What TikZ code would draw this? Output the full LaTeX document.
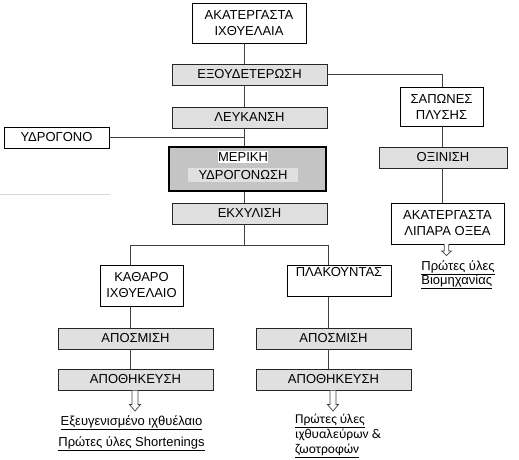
\documentclass[tikz,border=0pt]{standalone}
\usepackage{fontspec}
\setmainfont{Liberation Sans}
\newfontfamily\calfont{Carlito}
\usetikzlibrary{calc}
\definecolor{boxgray}{HTML}{E0E0E0}
\definecolor{midgray}{HTML}{C4C4C4}
\definecolor{linegray}{HTML}{404040}
\begin{document}
\begin{tikzpicture}[x=1pt,y=-1pt,
  font=\fontsize{13}{16}\selectfont,
  wbox/.style={draw=black, line width=0.9pt, fill=white, inner sep=0pt, align=center},
  gbox/.style={draw=black!85, line width=0.9pt, fill=boxgray, inner sep=0pt, minimum width=155pt, minimum height=21pt},
  conn/.style={draw=linegray, line width=0.9pt},
  hollow/.style={draw=linegray, line width=0.7pt, fill=white},
  prod/.style={inner sep=0pt, anchor=center}]
\useasboundingbox (0,0) rectangle (519,459);

% faint artefact line
\draw[black!15, line width=0.8pt] (0,194) -- (110,194);

% main column
\node[wbox, minimum width=114pt, minimum height=40pt] (raw) at (249,23) {ΑΚΑΤΕΡΓΑΣΤΑ\\ΙΧΘΥΕΛΑΙΑ};
\node[gbox] (neut) at (249.5,74.5) {ΕΞΟΥΔΕΤΕΡΩΣΗ};
\node[gbox] (bleach) at (249.5,117.5) {ΛΕΥΚΑΝΣΗ};
\node[wbox, minimum width=105pt, minimum height=21pt] (hyd) at (56.5,137.5) {ΥΔΡΟΓΟΝΟ};
\node[draw=black, line width=1.1pt, fill=midgray, minimum width=157pt, minimum height=44pt, inner sep=0pt] (part) at (247.5,169) {};
\node[fill=white, inner sep=0pt, minimum width=50pt, minimum height=12pt] (partA) at (243,157) {ΜΕΡΙΚΗ};
\node[fill=boxgray, inner sep=0pt, minimum width=110pt, minimum height=14pt] (partB) at (243,175) {ΥΔΡΟΓΟΝΩΣΗ};
\node[gbox] (extr) at (249.5,213.5) {ΕΚΧΥΛΙΣΗ};

% right column
\node[wbox, minimum width=83pt, minimum height=39pt] (soap) at (441.5,106.5) {ΣΑΠΩΝΕΣ\\ΠΛΥΣΗΣ};
\node[gbox, minimum width=128pt] (acid) at (443,157.5) {ΟΞΙΝΙΣΗ};
\node[wbox, minimum width=113pt, minimum height=41pt] (fatty) at (447.5,223.5) {ΑΚΑΤΕΡΓΑΣΤΑ\\ΛΙΠΑΡΑ ΟΞΕΑ};
\node[prod, align=left] (indus) at (458,275) {\underline{Πρώτες ύλες}\\[-2pt]\underline{Βιομηχανίας}};

% left branch
\node[wbox, minimum width=83pt, minimum height=41pt] (clean) at (141.5,285.5) {ΚΑΘΑΡΟ\\ΙΧΘΥΕΛΑΙΟ};
\node[gbox] (deo1) at (135.5,338.5) {ΑΠΟΣΜΙΣΗ};
\node[gbox] (store1) at (135.5,379.5) {ΑΠΟΘΗΚΕΥΣΗ};
\node[prod] (ref) at (131.5,422.5) {\underline{Εξευγενισμένο ιχθυέλαιο}};
\node[prod] (short) at (131.5,443.5) {\underline{Πρώτες ύλες Shortenings}};

% right branch
\node[wbox, minimum width=104pt, minimum height=31pt] (cake) at (339,281) {ΠΛΑΚΟΥΝΤΑΣ\\[-3pt]\strut};
\node[gbox] (deo2) at (333.5,338.5) {ΑΠΟΣΜΙΣΗ};
\node[gbox] (store2) at (333.5,379.5) {ΑΠΟΘΗΚΕΥΣΗ};
\node[prod, anchor=north west, align=left, font=\calfont\fontsize{13.5}{15}\selectfont] (meal) at (295,413.5) {\underline{Πρώτες ύλες}\\ιχθυαλεύρων \&\\\underline{ζωοτροφών}};

% connectors: main column (line at x=244)
\coordinate (c1) at (244,0);
\draw[conn] (raw.south -| c1) -- (neut.north -| c1);
\draw[conn] (neut.south -| c1) -- (bleach.north -| c1);
\draw[conn] (bleach.south -| c1) -- (part.north -| c1);
\draw[conn] (hyd.east) -- (hyd.east -| c1);
\draw[conn] (part.south -| c1) -- (extr.north -| c1);
\coordinate (br) at (244,245);
\coordinate (bl) at (130,245);
\coordinate (brr) at (328,245);
\draw[conn] (extr.south -| c1) -- (br);
\draw[conn] (bl) -- (brr);
\draw[conn] (bl) -- (bl |- clean.north);
\draw[conn] (brr) -- (brr |- cake.north);
\draw[conn] (clean.south -| bl) -- (deo1.north -| bl);
\draw[conn] (deo1.south -| bl) -- (store1.north -| bl);
\draw[conn] (cake.south -| brr) -- (deo2.north -| brr);
\draw[conn] (deo2.south -| brr) -- (store2.north -| brr);

% connectors: right column
\coordinate (c2) at (442,0);
\draw[conn] (neut.east) -| (soap.north -| c2);
\draw[conn] (soap.south -| c2) -- (acid.north -| c2);
\draw[conn] (acid.south -| c2) -- (fatty.north -| c2);

% hollow arrows
\coordinate (a1) at (135,390.5);
\draw[hollow] (a1) ++(-3,0) -- ++(0,14) -- ++(-2.5,0) -- ++(5.5,6.5) -- ++(5.5,-6.5) -- ++(-2.5,0) -- ++(0,-14);
\coordinate (a2) at (333,390.5);
\draw[hollow] (a2) ++(-3,0) -- ++(0,14) -- ++(-2.5,0) -- ++(5.5,6.5) -- ++(5.5,-6.5) -- ++(-2.5,0) -- ++(0,-14);
\coordinate (a3) at (446.5,244);
\draw[hollow] (a3) ++(-2.3,0) -- ++(0,7) -- ++(-2.5,0) -- ++(4.8,4.5) -- ++(4.8,-4.5) -- ++(-2.5,0) -- ++(0,-7);
\end{tikzpicture}
\end{document}
